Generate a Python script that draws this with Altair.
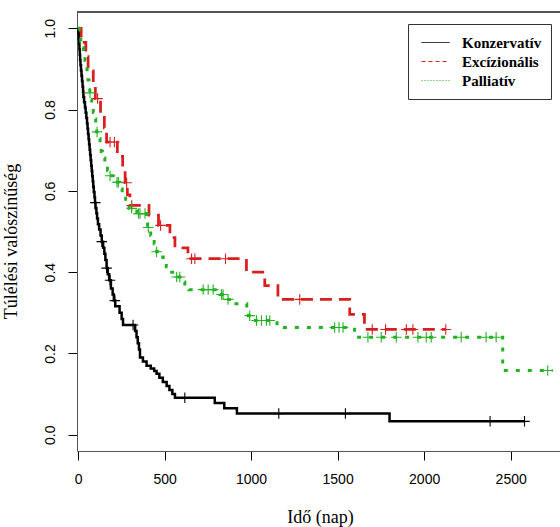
import altair as alt
import numpy as np
import pandas as pd

# ---------------- data ----------------
groups = ["Konzervatív", "Excízionális", "Palliatív"]
colors = ["#000000", "#d81e1e", "#22b222"]

# Konzervatív (black): step times (days) and survival after each step
kons_t = [2, 4, 6, 8, 10, 12, 14, 17, 20, 23, 26, 29, 31, 35, 40, 44, 48, 52, 55, 58,
          61, 64, 67, 70, 73, 76, 79, 82, 85, 88, 91, 95, 98, 101, 106, 110, 115, 122, 130, 137,
          145, 152, 158, 165, 172, 180, 190, 200, 207, 215, 240, 252, 260, 330, 338, 345, 352, 358, 375, 396,
          420, 440, 454, 470, 490, 512, 528, 545, 560, 790, 845, 918, 1800]
kons_s = [0.987, 0.974, 0.961, 0.948, 0.935, 0.922, 0.909, 0.896, 0.883, 0.870, 0.857, 0.844, 0.831,
          0.818, 0.805, 0.792, 0.779, 0.766, 0.753, 0.740, 0.727, 0.714, 0.701, 0.688, 0.675, 0.662,
          0.649, 0.636, 0.623, 0.610, 0.597,
          0.584, 0.571, 0.558, 0.545, 0.532, 0.518, 0.505, 0.490, 0.475, 0.460, 0.445, 0.430, 0.410,
          0.395, 0.380, 0.360, 0.345, 0.330, 0.316,
          0.300, 0.285, 0.270, 0.255, 0.240, 0.225, 0.210, 0.190, 0.180, 0.170, 0.163, 0.157, 0.150,
          0.140, 0.130, 0.120, 0.110, 0.100, 0.091, 0.078, 0.065, 0.052, 0.033]
kons_end = 2580
kons_cens = [100, 137, 165, 185, 213, 318, 617, 1160, 1545, 2381, 2580]

# Excízionális (red)
exc_t = [18, 45, 58, 88, 100, 130, 152, 165, 227, 258, 272, 285, 300, 410, 465, 531, 560, 635,
         973, 1079, 1155, 1570, 1655]
exc_s = [0.965, 0.93, 0.895, 0.86, 0.827, 0.79, 0.755, 0.72, 0.685, 0.65, 0.62, 0.59, 0.564, 0.54,
         0.515, 0.485, 0.46, 0.433, 0.40, 0.367, 0.333, 0.296, 0.259]
exc_end = 2125
exc_cens = [113, 185, 210, 281, 310, 477, 656, 675, 852, 1281, 1700, 1777, 1897, 1935, 2125]

# Palliatív (green)
pal_t = [8, 16, 24, 31, 40, 47, 52, 58, 63, 68, 74, 79, 88, 95, 102, 108, 118, 127, 134, 142,
         155, 170, 182, 215, 240, 255, 275, 295, 340, 395, 402, 420, 440, 454, 460, 492, 510, 525, 560, 600,
         617, 640, 820, 860, 900, 975, 985, 1025, 1150, 1598, 2454]
pal_s = [0.984, 0.968, 0.952, 0.937, 0.921, 0.905, 0.889, 0.873, 0.857, 0.841,
         0.825, 0.809, 0.793, 0.777, 0.761, 0.745, 0.729, 0.713, 0.697, 0.681,
         0.665, 0.65, 0.637, 0.621, 0.605, 0.589, 0.573, 0.557, 0.544, 0.527,
         0.51, 0.49, 0.47, 0.45, 0.437, 0.425, 0.413, 0.40, 0.388, 0.376,
         0.366, 0.357, 0.345, 0.333, 0.322, 0.305, 0.293, 0.281, 0.264, 0.24, 0.158]
pal_end = 2742
pal_cens = [69, 110, 185, 225, 233, 310, 350, 358, 387, 406, 454, 570, 588, 723, 752, 781, 829, 838,
            867, 992, 1031, 1060, 1089, 1108, 1483, 1508, 1531, 1675, 1752, 1839, 1964, 2012, 2041,
            2214, 2358, 2416, 2714]

x_ticks = [0, 500, 1000, 1500, 2000, 2500]
y_ticks = [0.0, 0.2, 0.4, 0.6, 0.8, 1.0]

# ---------------- build tables ----------------
series = [
    (groups[0], kons_t, kons_s, kons_end, kons_cens),
    (groups[1], exc_t, exc_s, exc_end, exc_cens),
    (groups[2], pal_t, pal_s, pal_end, pal_cens),
]
line_rows, cens_rows = [], []
for g, ts, ss, end, cens in series:
    assert len(ts) == len(ss)
    pts = [(0, 1.0)] + list(zip(ts, ss)) + [(end, ss[-1])]
    for i, (t, s) in enumerate(pts):
        line_rows.append({"g": g, "t": t, "s": s, "i": i})
    st = np.array([0] + ts)
    sv = np.array([1.0] + ss)
    for c in cens:
        k = np.searchsorted(st, c, side="right") - 1
        cens_rows.append({"g": g, "t": c, "s": float(sv[k])})
lines_df = pd.DataFrame(line_rows)
cens_df = pd.DataFrame(cens_rows)
legend_df = pd.DataFrame({"g": groups, "t": [0] * 3, "s": [1.0] * 3})

# ---------------- chart ----------------
xscale = alt.Scale(domain=[-6, 2785], nice=False, zero=False)
yscale = alt.Scale(domain=[-0.04, 1.04], nice=False, zero=False)


def cscale():
    return alt.Scale(domain=groups, range=colors)


x_axis = alt.Axis(values=x_ticks, format="d", title="Idő (nap)", grid=False,
                  labelFont="Liberation Sans", labelFontSize=14, labelColor="black",
                  labelPadding=12, tickSize=9, tickColor="black", tickWidth=1,
                  domainColor="#555", domainWidth=1,
                  titleFont="Liberation Serif", titleFontSize=18, titleFontWeight="normal",
                  titleColor="black", titleX=243, titleY=71, titleBaseline="alphabetic")
y_axis = alt.Axis(values=y_ticks, format=".1f", title="Túlélési valószínűség", grid=False,
                  labelFont="Liberation Sans", labelFontSize=14, labelColor="black",
                  labelAngle=270, labelAlign="center", labelBaseline="alphabetic",
                  labelPadding=14, tickSize=9, tickColor="black", tickWidth=1,
                  domainColor="#555", domainWidth=1,
                  titleFont="Liberation Serif", titleFontSize=18, titleFontWeight="normal",
                  titleColor="black", titleX=-61, titleY=229, titleAngle=270,
                  titleAlign="center", titleBaseline="alphabetic")

legend = alt.Legend(title=None, orient="none", legendX=331, legendY=12, direction="vertical",
                    padding=9, strokeColor="#333", fillColor="white",
                    labelFont="Liberation Serif", labelFontWeight="bold", labelFontSize=15,
                    labelColor="black", symbolType="stroke", symbolSize=784,
                    symbolStrokeWidth=1, labelOffset=12, clipHeight=19, rowPadding=0,
                    symbolOffset=4)

# legend-only layer (single point per group: draws no visible line)
legend_layer = alt.Chart(legend_df).mark_line(strokeWidth=1).encode(
    x=alt.X("t:Q", scale=xscale, axis=x_axis),
    y=alt.Y("s:Q", scale=yscale, axis=y_axis),
    color=alt.Color("g:N", scale=cscale(), legend=legend),
    strokeDash=alt.StrokeDash("g:N", scale=alt.Scale(domain=groups, range=[[1, 0], [4, 3], [1, 2]]),
                              legend=legend),
)

lines = alt.Chart(lines_df).mark_line(interpolate="step-after", strokeCap="butt").encode(
    x=alt.X("t:Q", scale=xscale),
    y=alt.Y("s:Q", scale=yscale),
    color=alt.Color("g:N", scale=cscale(), legend=None),
    strokeDash=alt.StrokeDash("g:N", scale=alt.Scale(domain=groups, range=[[1, 0], [12, 7], [4, 8]]),
                              legend=None),
    strokeWidth=alt.StrokeWidth("g:N", scale=alt.Scale(domain=groups, range=[2.5, 3, 3]), legend=None),
    detail="g:N",
    order=alt.Order("i:Q"),
)

crosses = alt.Chart(cens_df).mark_point(shape="M-1,0L1,0M0,-1L0,1", filled=False,
                                         size=110, strokeWidth=1.1, opacity=1).encode(
    x=alt.X("t:Q", scale=xscale),
    y=alt.Y("s:Q", scale=yscale),
    color=alt.Color("g:N", scale=cscale(), legend=None),
)

top_border = alt.Chart(lines_df).mark_rule(color="#555", strokeWidth=1).encode(
    y=alt.datum(1.04)
)

chart = alt.layer(legend_layer, lines, crosses, top_border).resolve_scale(
    color="independent", strokeDash="independent", strokeWidth="independent"
).properties(
    width=483, height=439,
    autosize=alt.AutoSizeParams(type="none"),
    padding={"left": 77, "top": 12, "right": 0, "bottom": 76},
    background="white",
).configure_view(stroke=None)

chart.save("out.html", embed_options={"renderer": "svg", "actions": False})
